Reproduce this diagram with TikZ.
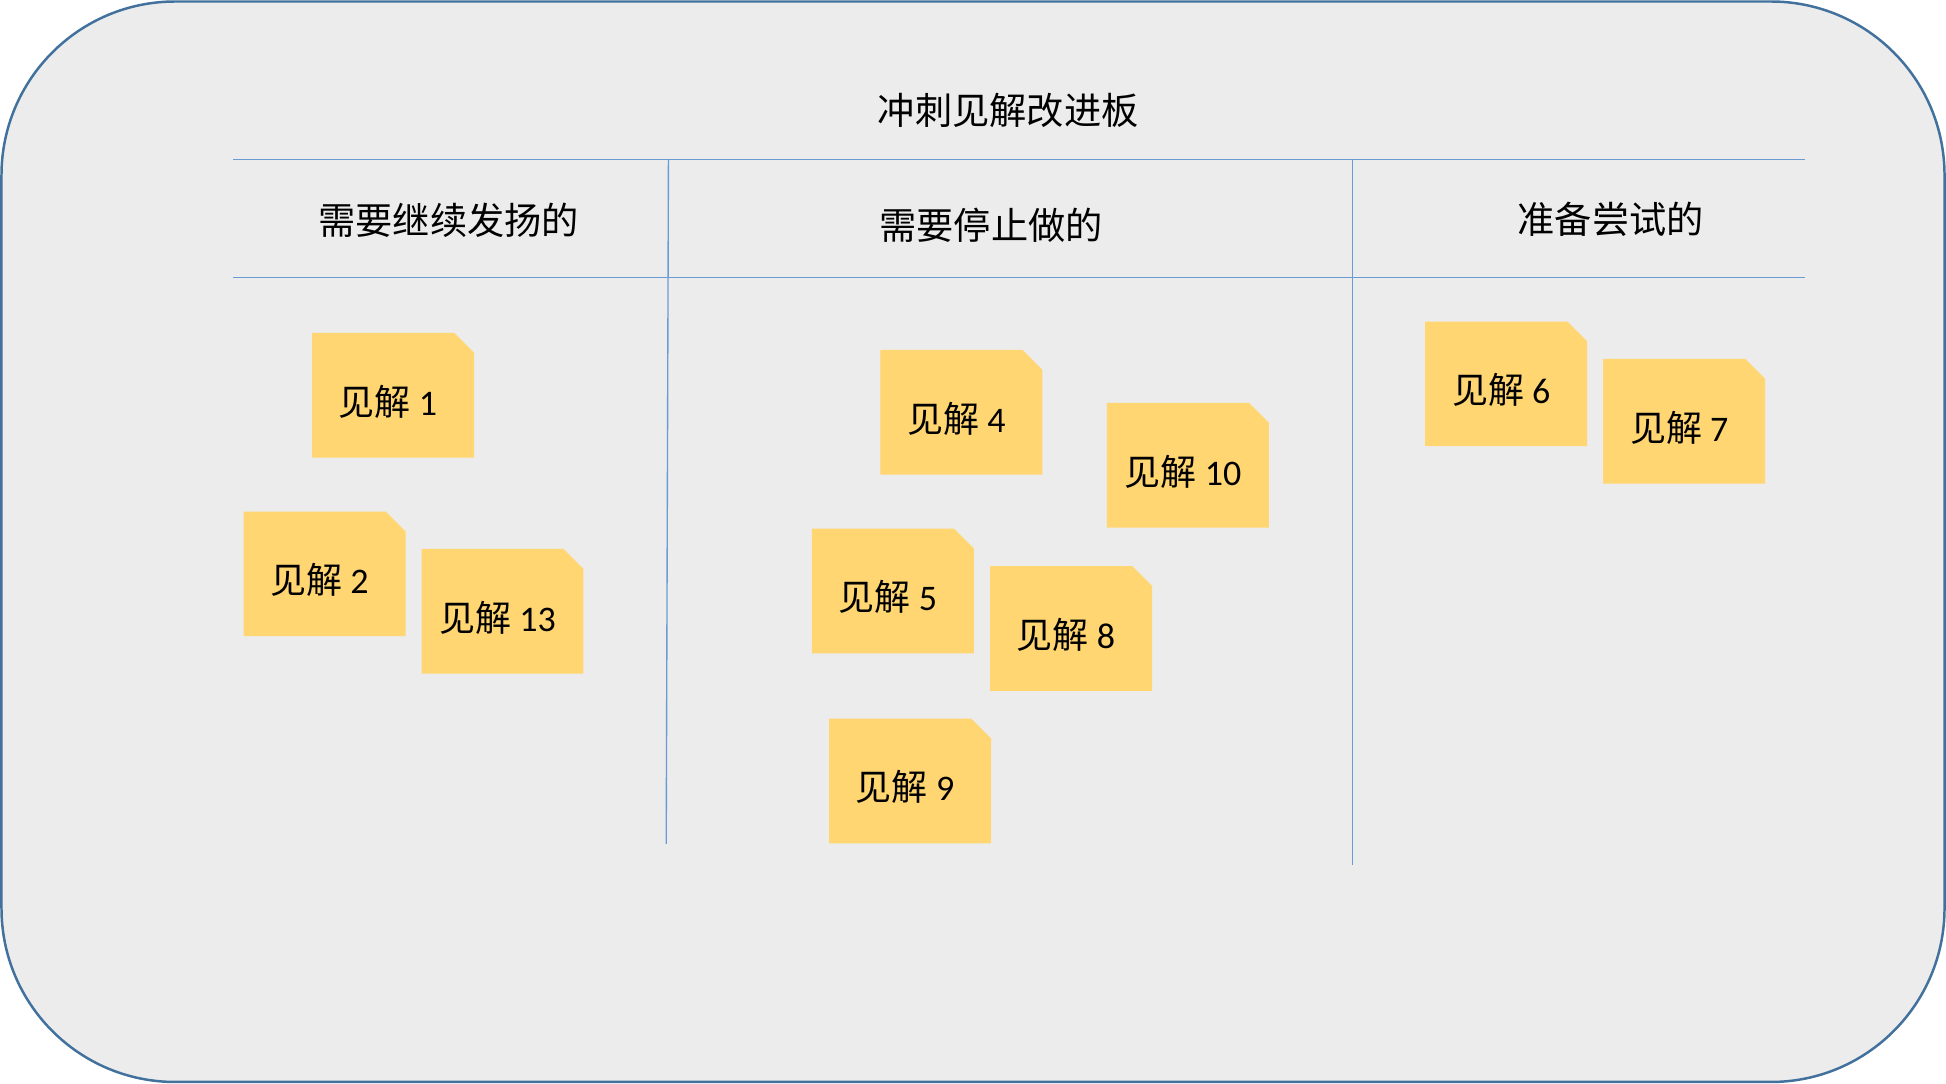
\documentclass[tikz,border=0pt]{standalone}
\usepackage{fontspec}
\newfontfamily\cjk{Noto Sans CJK SC}
\newfontfamily\carl{Carlito}
\definecolor{bgcol}{HTML}{ECECEC}
\definecolor{framecol}{HTML}{41719C}
\definecolor{gridcol}{HTML}{6A9BD3}
\definecolor{notecol}{HTML}{FFD671}
\newcommand\insight[1]{{\cjk 见解}\hspace{6.5pt}{\carl #1}}
\begin{document}
\begin{tikzpicture}[x=1pt,y=-1pt,
  head/.style={anchor=base, inner sep=0pt, text=black, font=\cjk\fontsize{30}{36}\selectfont},
  gridline/.style={draw=gridcol, line width=1.1pt},
  note/.style={rectangle, minimum width=130.5pt, minimum height=100.5pt, inner sep=0pt,
    path picture={\fill[notecol] (path picture bounding box.south west)
      |- ([xshift=-16pt]path picture bounding box.north east)
      -- ([yshift=-16pt]path picture bounding box.north east)
      |- cycle;}},
  notetext/.style={anchor=base, inner sep=0pt, text=black, font=\fontsize{29}{34}\selectfont}]

\useasboundingbox (0,0) rectangle (1568,873);
\draw[framecol, line width=2pt, fill=bgcol, rounded corners=140pt] (1.2,1.2) rectangle (1566.8,871.8);

% title and column heads
\node[head] (title) at (812.4,100.5) {冲刺见解改进板};
\node[head] (h1) at (361.5,189) {需要继续发扬的};
\node[head] (h2) at (798.5,192.8) {需要停止做的};
\node[head] (h3) at (1297.8,188.5) {准备尝试的};

% grid lines
\coordinate (hl1a) at (188,128.4);
\coordinate (hl1b) at (1454.2,128.4);
\coordinate (hl2a) at (188,223.5);
\coordinate (hl2b) at (1454.2,223.5);
\coordinate (v1a) at (538.6,128.4);
\coordinate (v1b) at (536.8,680);
\coordinate (v2a) at (1089.7,128.4);
\coordinate (v2b) at (1089.7,697);
\draw[gridline] (hl1a) -- (hl1b);
\draw[gridline] (hl2a) -- (hl2b);
\draw[gridline] (v1a) -- (v1b);
\draw[gridline] (v2a) -- (v2b);

% sticky notes
\node[note] (n1) at (316.7,318.5) {};
\node[note] (n2) at (261.5,462.4) {};
\node[note] (n13) at (404.9,492.6) {};
\node[note] (n4) at (774.7,332.2) {};
\node[note] (n10) at (957.2,374.9) {};
\node[note] (n5) at (719.5,476.2) {};
\node[note] (n8) at (863,506.4) {};
\node[note] (n9) at (733.3,629.3) {};
\node[note] (n6) at (1213.6,309.3) {};
\node[note] (n7) at (1357,339.5) {};

\node[notetext] (t1) at ([xshift=-4pt,yshift=-16pt]n1.center) {\insight{1}};
\node[notetext] (t2) at ([xshift=-4pt,yshift=-16pt]n2.center) {\insight{2}};
\node[notetext] (t13) at ([xshift=-4pt,yshift=-16pt]n13.center) {\insight{13}};
\node[notetext] (t4) at ([xshift=-4pt,yshift=-16pt]n4.center) {\insight{4}};
\node[notetext] (t10) at ([xshift=-4pt,yshift=-16pt]n10.center) {\insight{10}};
\node[notetext] (t5) at ([xshift=-4pt,yshift=-16pt]n5.center) {\insight{5}};
\node[notetext] (t8) at ([xshift=-4pt,yshift=-16pt]n8.center) {\insight{8}};
\node[notetext] (t9) at ([xshift=-4pt,yshift=-16pt]n9.center) {\insight{9}};
\node[notetext] (t6) at ([xshift=-4pt,yshift=-16pt]n6.center) {\insight{6}};
\node[notetext] (t7) at ([xshift=-4pt,yshift=-16pt]n7.center) {\insight{7}};
\end{tikzpicture}
\end{document}
